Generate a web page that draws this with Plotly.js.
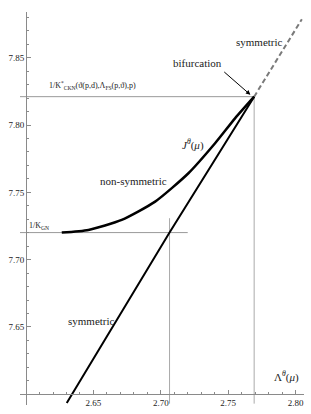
<!DOCTYPE html>
<html><head><meta charset="utf-8">
<script src="https://cdn.plot.ly/plotly-3.0.1.min.js"></script>
<style>html,body{margin:0;padding:0;background:#fff}#chart{width:311px;height:414px}</style>
</head><body><div id="chart"></div>
<script>
// ---- data ----
const symX = [2.6302, 2.7065, 2.7693];
const symY = [7.5935, 7.7201, 7.8211];
const symDashX = [2.7693, 2.8047];
const symDashY = [7.8211, 7.8786];
const nonSymX = [2.6265, 2.6463, 2.6710, 2.6958, 2.7205, 2.7403, 2.7551, 2.7693];
const nonSymY = [7.7201, 7.7221, 7.7295, 7.7431, 7.7642, 7.7865, 7.8050, 7.8211];
const kcknX = [2.5955, 2.7693];
const kcknY = [7.8211, 7.8211];
const kgnX = [2.5955, 2.7200];
const kgnY = [7.7201, 7.7201];
const vGnX = [2.7065, 2.7065];
const vGnY = [7.593, 7.7308];
const vBifX = [2.7693, 2.7693];
const vBifY = [7.593, 7.8211];
const xTickVals = [2.65, 2.70, 2.75, 2.80];
const xTickText = ['2.65', '2.70', '2.75', '2.80'];
const yTickVals = [7.65, 7.70, 7.75, 7.80, 7.85];
const yTickText = ['7.65', '7.70', '7.75', '7.80', '7.85'];
const xRange = [2.5955, 2.8063];
const yRange = [7.592, 7.884];
const axisOriginX = 2.60;
const axisOriginY = 7.60;

const serif = "'Liberation Serif', 'Times New Roman', Times, serif";
const axCol = '#8a8a8a';

const traces = [
  {x: vGnX, y: vGnY, mode: 'lines', line: {color: '#aaaaaa', width: 1}},
  {x: vBifX, y: vBifY, mode: 'lines', line: {color: '#aaaaaa', width: 1}},
  {x: kcknX, y: kcknY, mode: 'lines', line: {color: '#999999', width: 1}},
  {x: kgnX, y: kgnY, mode: 'lines', line: {color: '#999999', width: 1}},
  {x: symDashX, y: symDashY, mode: 'lines', line: {color: '#7a7a7a', width: 2, dash: '5px,3px'}},
  {x: symX, y: symY, mode: 'lines', line: {color: '#000', width: 2}},
  {x: nonSymX, y: nonSymY, mode: 'lines', line: {color: '#000', width: 2.5, shape: 'spline', smoothing: 0.6}}
];

const axBase = {
  showline: true, linecolor: axCol, linewidth: 1, mirror: false,
  ticks: 'inside', ticklen: 4, tickwidth: 1, tickcolor: axCol,
  showgrid: false, zeroline: false, anchor: 'free',
  tickfont: {family: serif, size: 9, color: '#222'},
  tickmode: 'array'
};

const layout = {
  width: 311, height: 414,
  margin: {l: 20, r: 7, t: 12, b: 9},
  paper_bgcolor: '#fff', plot_bgcolor: '#fff',
  font: {family: serif},
  showlegend: false, hovermode: false,
  xaxis: Object.assign({}, axBase, {
    range: xRange, tickvals: xTickVals, ticktext: xTickText,
    position: (axisOriginY - yRange[0]) / (yRange[1] - yRange[0]),
    minor: {tick0: axisOriginX, dtick: 0.01, ticks: 'inside', ticklen: 2, tickcolor: axCol, showgrid: false}
  }),
  yaxis: Object.assign({}, axBase, {
    range: yRange, tickvals: yTickVals, ticktext: yTickText,
    position: (axisOriginX - xRange[0]) / (xRange[1] - xRange[0]),
    minor: {tick0: axisOriginY, dtick: 0.01, ticks: 'inside', ticklen: 2, tickcolor: axCol, showgrid: false}
  }),
  annotations: [
    {x: 2.7730, y: 7.8618, text: 'symmetric', showarrow: false, font: {family: serif, size: 11, color: '#222'}},
    {x: 2.7270, y: 7.8461, text: 'bifurcation', showarrow: false, font: {family: serif, size: 11, color: '#222'}},
    {x: 2.7665, y: 7.8225, ax: 2.7460, ay: 7.8404, axref: 'x', ayref: 'y', text: '', showarrow: true,
     arrowhead: 2, arrowsize: 0.9, arrowwidth: 1, arrowcolor: '#000'},
    {x: 2.6156, y: 7.8291, xanchor: 'left', text: '1/K<sup>*</sup><sub>CKN</sub>(ϑ(p,d),Λ<sub>FS</sub>(p,ϑ),p)', showarrow: false,
     font: {family: serif, size: 8, color: '#222'}},
    {x: 2.7240, y: 7.7852, text: '<i>J</i><sup><i>θ</i></sup>(<i>μ</i>)', showarrow: false, font: {family: serif, size: 11, color: '#222'}},
    {x: 2.6794, y: 7.7585, text: 'non-symmetric', showarrow: false, font: {family: serif, size: 11, color: '#222'}},
    {x: 2.6007, y: 7.7250, xanchor: 'left', text: '1/K<sub>GN</sub>', showarrow: false, font: {family: serif, size: 8, color: '#222'}},
    {x: 2.6483, y: 7.6545, text: 'symmetric', showarrow: false, font: {family: serif, size: 11, color: '#222'}},
    {x: 2.7930, y: 7.6129, text: 'Λ<sup><i>θ</i></sup>(<i>μ</i>)', showarrow: false, font: {family: serif, size: 11, color: '#222'}}
  ]
};

Plotly.newPlot('chart', traces, layout, {staticPlot: true, displayModeBar: false});
</script>
</body></html>
